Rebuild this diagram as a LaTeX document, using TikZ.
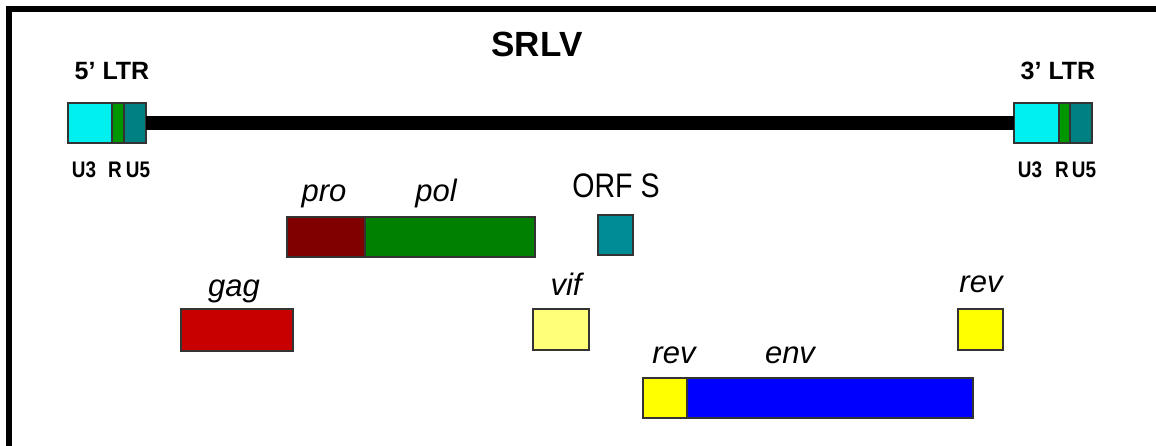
\documentclass[tikz,border=0pt]{standalone}
\usepackage{fontspec}
\setmainfont{Liberation Sans}
\definecolor{ltrU}{RGB}{0,240,240}
\definecolor{ltrR}{RGB}{0,150,0}
\definecolor{ltrV}{RGB}{0,128,128}
\definecolor{proC}{RGB}{128,0,0}
\definecolor{polC}{RGB}{0,128,0}
\definecolor{orfC}{RGB}{0,140,150}
\definecolor{gagC}{RGB}{200,0,0}
\definecolor{vifC}{RGB}{255,255,120}
\definecolor{revC}{RGB}{255,255,0}
\definecolor{envC}{RGB}{0,0,255}
\newcommand{\narrow}[1]{\scalebox{0.84}[1]{#1}}
\begin{document}
\begin{tikzpicture}[x=1pt,y=-1pt,
  seg/.style={draw=black!80, line width=1.2pt, inner sep=0pt, outer sep=0pt,
              anchor=north west, minimum height=40pt},
  gene/.style={font=\fontsize{31}{31}\selectfont\itshape, inner sep=0pt, anchor=base},
  ltrlabel/.style={font=\fontsize{25}{25}\selectfont\bfseries, inner sep=0pt, anchor=base},
  region/.style={font=\fontsize{22.5}{22.5}\selectfont\bfseries, inner sep=0pt, anchor=base},
  genome/.style={line width=14pt},
  frame/.style={line width=6pt, line join=miter}
]
\useasboundingbox (0,0) rectangle (1156,446);
% outer frame (top and left edges)
\draw[frame] (1160,9) -- (9,9) -- (9,450);

% title
\node[font=\fontsize{35}{35}\selectfont\bfseries, inner sep=0pt, anchor=base] (title) at (537,57) {SRLV};

% 5' LTR
\node[ltrlabel] (l5) at (112,80) {5’ LTR};
\node[seg, fill=ltrU, minimum width=44pt] (u3a) at (68,103) {};
\node[seg, fill=ltrR, minimum width=12pt] (ra) at (112,103) {};
\node[seg, fill=ltrV, minimum width=22pt] (u5a) at (124,103) {};
\node[region] (tu3a) at (84,178) {\narrow{U3}};
\node[region] (tra) at (115,178) {\narrow{R}};
\node[region] (tu5a) at (138,178) {\narrow{U5}};

% 3' LTR
\node[ltrlabel] (l3) at (1058,80) {3’ LTR};
\node[seg, fill=ltrU, minimum width=45pt] (u3b) at (1014,103) {};
\node[seg, fill=ltrR, minimum width=11pt] (rb) at (1059,103) {};
\node[seg, fill=ltrV, minimum width=22pt] (u5b) at (1070,103) {};
\node[region] (tu3b) at (1030,178) {\narrow{U3}};
\node[region] (trb) at (1062,178) {\narrow{R}};
\node[region] (tu5b) at (1084,178) {\narrow{U5}};

% proviral genome
\draw[genome] (u5a.east) -- (u3b.west);

% pro / pol
\node[seg, fill=proC, minimum width=78pt] (pro) at (287,217) {};
\node[seg, fill=polC, minimum width=170pt] (pol) at (365,217) {};
\node[gene] (tpro) at (324,202) {pro};
\node[gene] (tpol) at (436,202) {pol};

% ORF S
\node[seg, fill=orfC, minimum width=35pt] (orfs) at (598,215) {};
\node[font=\fontsize{34}{34}\selectfont, inner sep=0pt, anchor=base] (torfs) at (616,198) {\narrow{ORF S}};

% gag
\node[seg, fill=gagC, minimum width=112pt, minimum height=42pt] (gag) at (181,309) {};
\node[gene] (tgag) at (234,297) {gag};

% vif
\node[seg, fill=vifC, minimum width=56pt, minimum height=41pt] (vif) at (533,309) {};
\node[gene] (tvif) at (566,295) {vif};

% rev (second exon)
\node[seg, fill=revC, minimum width=45pt, minimum height=41pt] (rev2) at (958,309) {};
\node[gene] (trev2) at (981,293) {rev};

% rev / env
\node[seg, fill=revC, minimum width=44pt] (rev1) at (643,378) {};
\node[seg, fill=envC, minimum width=286pt] (env) at (687,378) {};
\node[gene] (trev1) at (674,363) {rev};
\node[gene] (tenv) at (790,363) {env};
\end{tikzpicture}
\end{document}
